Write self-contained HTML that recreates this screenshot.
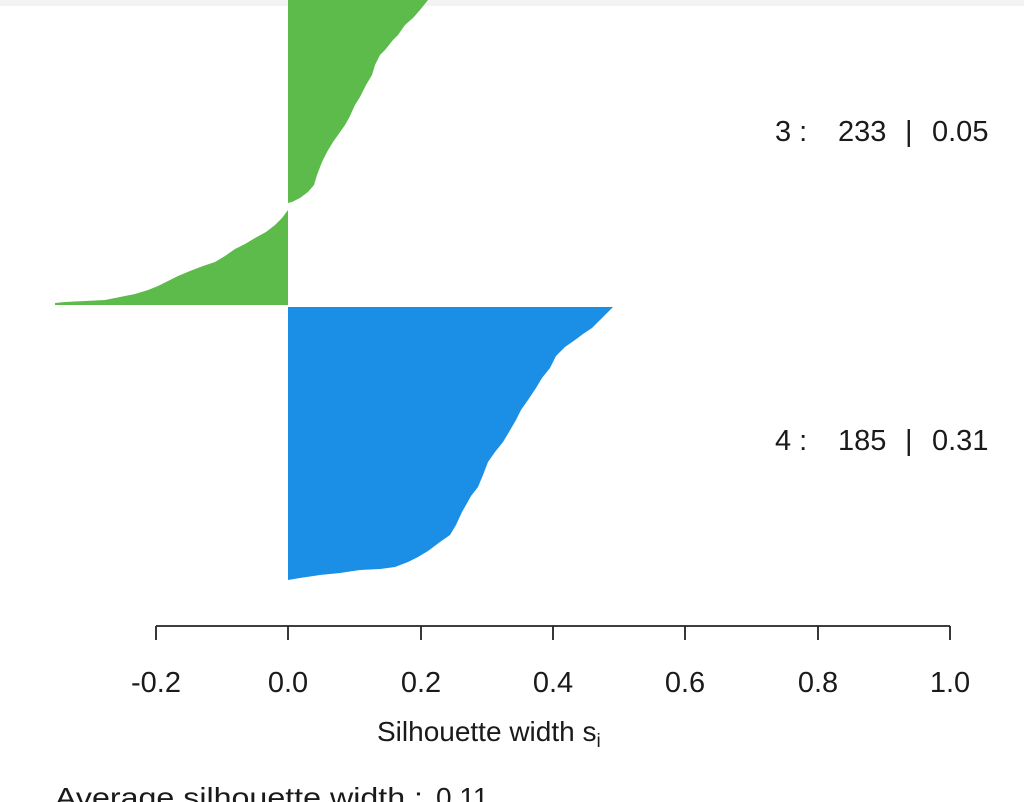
<!DOCTYPE html>
<html><head><meta charset="utf-8"><style>
html,body{margin:0;padding:0;background:#fff;}
svg{display:block;}
text{font-family:"Liberation Sans",sans-serif;fill:#1a1a1a;}
</style></head><body>
<svg width="1024" height="802" viewBox="0 0 1024 802" xmlns="http://www.w3.org/2000/svg">
<rect x="0" y="0" width="1024" height="802" fill="#fff"/>
<rect x="0" y="0" width="1024" height="6" fill="#f3f3f3"/>
<path fill="#5cbb4b" d="M288,0 L428,0 L420,10 L413,18 L405,25 L398,35 L393,40 L385,50 L380,55 L375,65 L372,75 L366,85 L360,97 L355,105 L349,118 L345,125 L338,135 L333,142 L327,152 L322,162 L317,175 L314,185 L308,192 L300,198 L292,202 L288,203 Z"/>
<path fill="#5cbb4b" d="M288,210 L282,218 L275,225 L266,232 L255,238 L245,244 L235,249 L225,256 L215,262 L203,266 L190,271 L178,276 L168,281 L158,286 L148,290 L135,294 L120,297 L105,300 L85,301 L65,302 L55,303 L55,305 L288,305 Z"/>
<path fill="#1b8fe5" d="M288,307 L613,307 L606,314 L600,320 L592,328 L583,334 L575,340 L565,347 L556,356 L550,368 L542,378 L536,388 L528,400 L521,410 L516,420 L509,432 L503,442 L495,452 L488,462 L483,475 L478,487 L471,496 L466,505 L462,512 L456,525 L450,535 L440,542 L428,551 L418,557 L408,562 L395,567 L380,569 L360,570 L340,573 L320,575 L300,578 L288,580 Z"/>
<g stroke="#222" stroke-width="1.8" fill="none">
<line x1="156" y1="626" x2="950" y2="626"/>
<line x1="156" y1="626" x2="156" y2="640"/>
<line x1="288" y1="626" x2="288" y2="640"/>
<line x1="421" y1="626" x2="421" y2="640"/>
<line x1="553" y1="626" x2="553" y2="640"/>
<line x1="685" y1="626" x2="685" y2="640"/>
<line x1="818" y1="626" x2="818" y2="640"/>
<line x1="950" y1="626" x2="950" y2="640"/>
</g>
<g font-size="29" text-anchor="middle">
<text x="156" y="692">-0.2</text>
<text x="288" y="692">0.0</text>
<text x="421" y="692">0.2</text>
<text x="553" y="692">0.4</text>
<text x="685" y="692">0.6</text>
<text x="818" y="692">0.8</text>
<text x="950" y="692">1.0</text>
</g>
<text x="377" y="741" font-size="28">Silhouette width s<tspan font-size="19" dy="6">i</tspan></text>
<text x="55" y="807" font-size="28" textLength="368" lengthAdjust="spacingAndGlyphs">Average silhouette width :</text>
<text x="436" y="807" font-size="28">0.11</text>
<g font-size="29">
<text x="775" y="141">3 :</text><text x="838" y="141">233</text><text x="905" y="141">|</text><text x="932" y="141">0.05</text>
<text x="775" y="450">4 :</text><text x="838" y="450">185</text><text x="905" y="450">|</text><text x="932" y="450">0.31</text>
</g>
</svg>
</body></html>
